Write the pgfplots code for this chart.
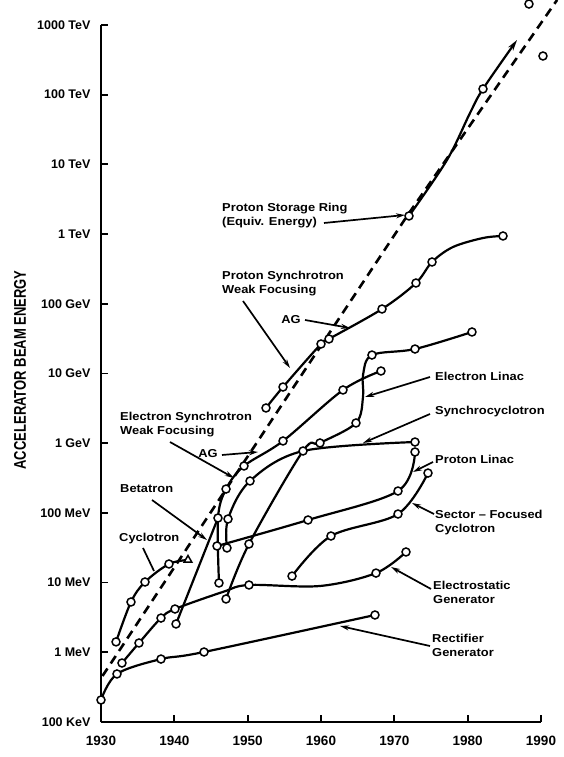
\documentclass[border=0pt]{standalone}
\usepackage{pgfplots}
\pgfplotsset{compat=1.18}
\usetikzlibrary{arrows.meta}
\usepackage{graphicx}
\usepackage{fontspec}
\setmainfont{Liberation Sans}
\tikzset{
  cv/.style={smooth, tension=0.55, black, line width=2.2pt, mark=none},
  pt/.style={only marks, mark=*, mark size=4pt, mark options={fill=white, draw=black, line width=1.5pt, solid}},
  lab/.style={font=\bfseries\fontsize{11.5}{14}\selectfont, align=left, inner sep=0pt, xscale=1.12},
  arr/.style={line width=1.7pt, -{Stealth[length=9pt,width=5pt]}}
}
\begin{document}
\begin{tikzpicture}
\begin{axis}[
  at={(101pt,35pt)}, anchor=south west,
  scale only axis, width=440pt, height=697pt,
  xmin=1930, xmax=1990, ymode=log, ymin=0.1, ymax=1e9,
  axis x line=bottom, axis y line=left,
  axis line style={-, line width=2.4pt},
  every tick/.style={black, line width=1.8pt},
  tick align=inside, major tick length=7pt,
  xtick={1930,1940,1950,1960,1970,1980,1990},
  xticklabels={1930,1940,1950,1960,1970,1980,1990},
  ytick={0.1,1,10,100,1000,1e4,1e5,1e6,1e7,1e8,1e9},
  yticklabels={100 KeV,1 MeV,10 MeV,100 MeV,1 GeV,10 GeV,100 GeV,1 TeV,10 TeV,100 TeV,1000 TeV},
  yminorticks=false,
  xticklabel style={font=\bfseries\fontsize{13.5}{13.5}\selectfont, yshift=-11pt},
  yticklabel style={font=\bfseries\fontsize{12.5}{13}\selectfont, xshift=-7pt},
  clip=false,
]
% dashed trend line
\addplot[black, line width=2.6pt, dash pattern=on 9pt off 6pt] coordinates {(1930.2,0.457) (1960,25100) (1972,2.0e6) (1992.2,2.29e9)};
% Rectifier generator
\addplot[cv] coordinates {(1930,0.207) (1932.18,0.489) (1938.18,0.80) (1944.05,1.01) (1967.36,3.43)};
% Electrostatic generator
\addplot[cv] coordinates {(1932.86,0.702) (1935.18,1.36) (1938.18,3.10) (1940.09,4.18) (1946.6,7.33) (1950.18,9.24) (1959.86,8.94) (1967.5,13.7) (1971.59,27.5)};
% Cyclotron
\addplot[cv] coordinates {(1932.05,1.41) (1934.09,5.27) (1936.0,10.2) (1939.27,18.5) (1941.86,21.1)};
% Betatron
\addplot[cv] coordinates {(1940.23,2.55) (1945.95,84.5)};
% Electron synchrotron
\addplot[cv] coordinates {(1946.09,9.87) (1945.95,84.5) (1947.05,220) (1949.5,471) (1954.82,1076) (1963.0,5800) (1968.18,10860)};
% Electron linac
\addplot[cv] coordinates {(1947.05,5.82) (1950.18,35.8) (1957.55,773) (1959.86,1007) (1964.77,1950) (1965.73,4600) (1965.73,9510) (1966.95,18400) (1972.82,22450) (1980.59,39400)};
% Synchrocyclotron
\addplot[cv] coordinates {(1947.18,31.4) (1947.32,81.7) (1950.32,287) (1957.55,773) (1972.82,1040)};
% Proton linac
\addplot[cv] coordinates {(1945.82,33.5) (1958.23,79.1) (1970.5,206) (1972.82,748)};
% Sector-focused cyclotron
\addplot[cv] coordinates {(1956.05,12.4) (1961.36,46.6) (1970.5,96.4) (1974.59,373)};
% Proton synchrotron
\addplot[cv] coordinates {(1952.5,3200) (1954.82,6400) (1960.0,26500) (1961.09,31300) (1968.32,84200) (1972.95,198700) (1975.14,398000) (1978.0,653000) (1982.1,879000) (1984.82,939700)};
% Proton storage ring
\addplot[cv, -{Stealth[length=11pt,width=6pt]}] coordinates {(1972.0,1.82e6) (1977.18,1.156e7) (1980.32,5.46e7) (1982.09,1.21e8) (1986.73,6.09e8)};
% markers
\addplot[pt] coordinates {(1930,0.207) (1932.18,0.489) (1938.18,0.80) (1944.05,1.01) (1967.36,3.43)};
\addplot[pt] coordinates {(1932.86,0.702) (1935.18,1.36) (1938.18,3.10) (1940.09,4.18) (1950.18,9.24) (1967.5,13.7) (1971.59,27.5)};
\addplot[pt] coordinates {(1932.05,1.41) (1934.09,5.27) (1936.0,10.2) (1939.27,18.5)};
\addplot[only marks, mark=triangle*, mark size=4.5pt, mark options={fill=white, draw=black, line width=1.5pt}] coordinates {(1941.86,21.1)};
\addplot[pt] coordinates {(1940.23,2.55) (1945.95,84.5)};
\addplot[pt] coordinates {(1946.09,9.87) (1947.05,220) (1949.5,471) (1954.82,1076) (1963.0,5800) (1968.18,10860)};
\addplot[pt] coordinates {(1947.05,5.82) (1950.18,35.8) (1957.55,773) (1959.86,1007) (1964.77,1950) (1966.95,18400) (1972.82,22450) (1980.59,39400)};
\addplot[pt] coordinates {(1947.18,31.4) (1947.32,81.7) (1950.32,287) (1972.82,1040)};
\addplot[pt] coordinates {(1945.82,33.5) (1958.23,79.1) (1970.5,206) (1972.82,748)};
\addplot[pt] coordinates {(1956.05,12.4) (1961.36,46.6) (1970.5,96.4) (1974.59,373)};
\addplot[pt] coordinates {(1952.5,3200) (1954.82,6400) (1960.0,26500) (1961.09,31300) (1968.32,84200) (1972.95,198700) (1975.14,398000) (1984.82,939700)};
\addplot[pt] coordinates {(1972.0,1.82e6) (1982.09,1.21e8)};
\addplot[pt] coordinates {(1988.36,2.0e9) (1990.27,3.59e8)};
\end{axis}
\begin{scope}[x=1pt,y=-1pt,shift={(0pt,757pt)}]
\node[rotate=90, font=\bfseries\fontsize{13}{13}\selectfont] at (20,370) {\scalebox{1}[1.3]{ACCELERATOR BEAM ENERGY}};
\node[lab, anchor=north west] at (222,203) {Proton Storage Ring\\(Equiv. Energy)};
\draw[arr] (324,223) -- (405,215);
\node[lab, anchor=north west] at (222,271) {Proton Synchrotron\\Weak Focusing};
\draw[arr] (243,301) -- (290,368);
\node[lab, anchor=center] at (291,320) {AG};
\draw[arr] (305,320) -- (350,328);
\node[lab, anchor=north west] at (120,412) {Electron Synchrotron\\Weak Focusing};
\draw[arr] (170,442) -- (234,478);
\node[lab, anchor=center] at (208,454) {AG};
\draw[arr] (222,455) -- (258,452);
\node[lab, anchor=west] at (120,489) {Betatron};
\draw[arr] (152,500) -- (207,540);
\node[lab, anchor=west] at (119,539) {Cyclotron};
\draw[line width=1.7pt] (143,548) -- (154,571);
\node[lab, anchor=west] at (435,376) {Electron Linac};
\draw[arr] (430,377) -- (365,397);
\node[lab, anchor=west] at (435,412) {Synchrocyclotron};
\draw[arr] (430,414) -- (363,443);
\node[lab, anchor=west] at (435,459) {Proton Linac};
\draw[arr] (433,462) -- (413,472);
\node[lab, anchor=north west] at (435,510) {Sector -- Focused\\Cyclotron};
\draw[arr] (434,514) -- (412,503);
\node[lab, anchor=north west] at (433,581) {Electrostatic\\Generator};
\draw[arr] (431,589) -- (391,567);
\node[lab, anchor=north west] at (432,634) {Rectifier\\Generator};
\draw[arr] (430,646) -- (340,626);
\end{scope}
\pgfresetboundingbox
\path (0,0) rectangle (564pt,757pt);
\end{tikzpicture}
\end{document}
